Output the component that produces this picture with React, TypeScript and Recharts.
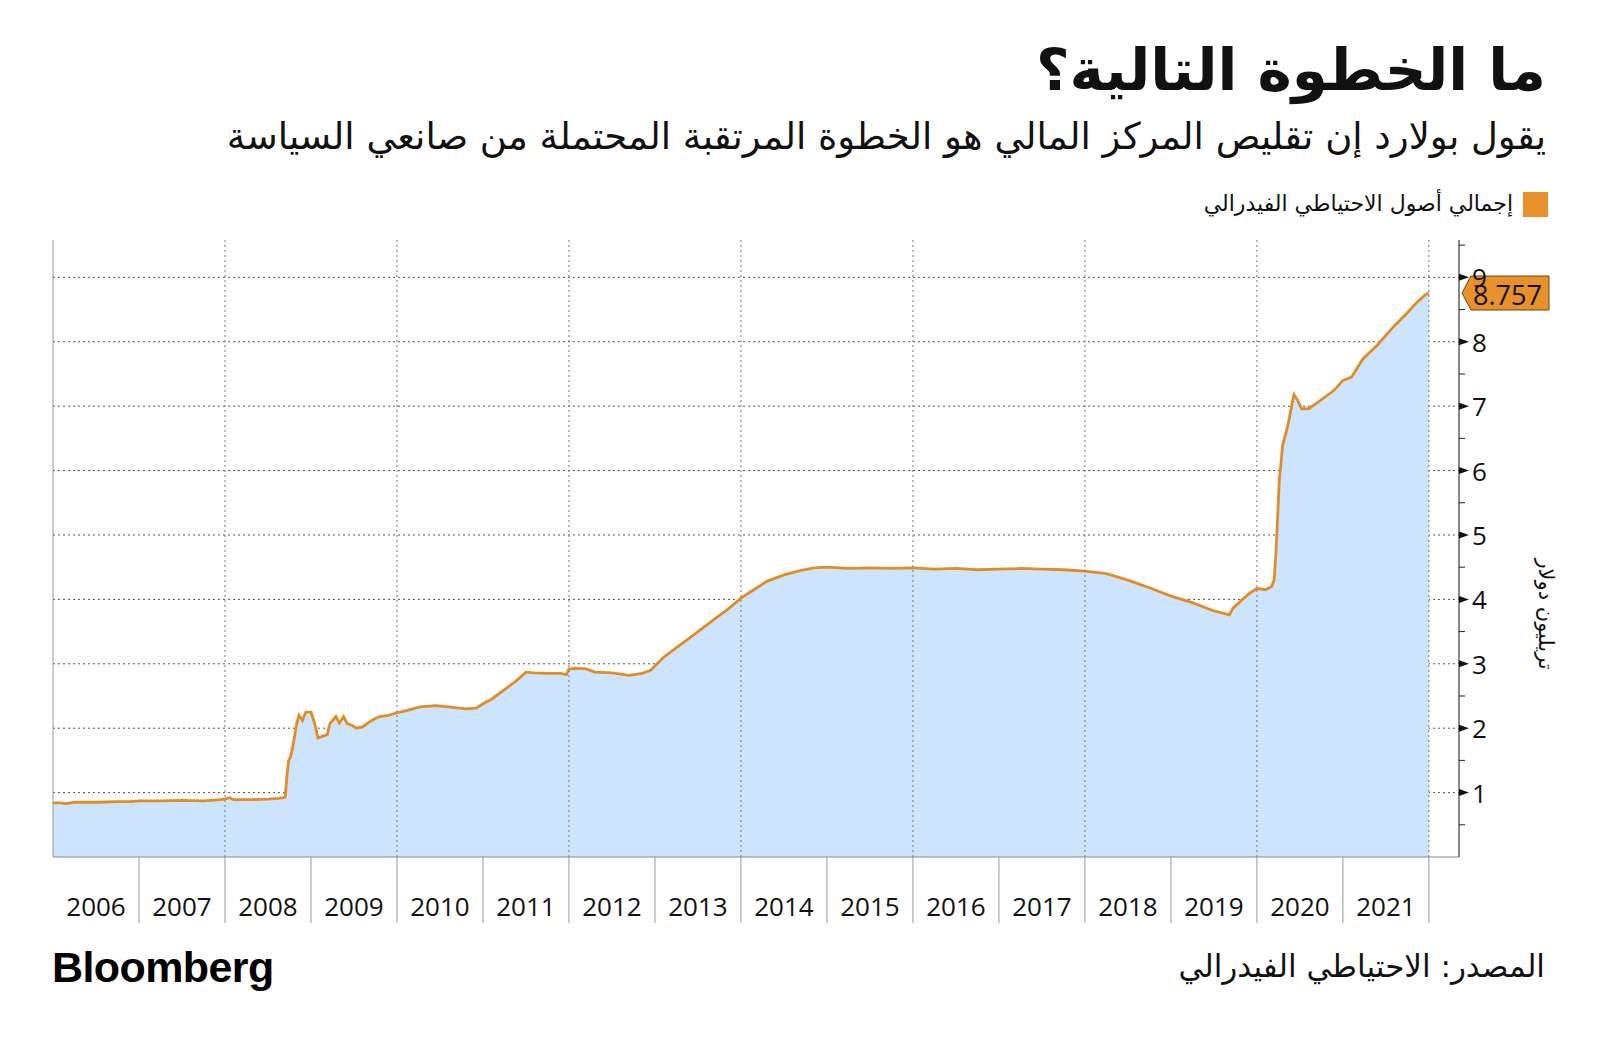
import React from 'react';
import { AreaChart, Area, XAxis, YAxis, CartesianGrid, ReferenceLine } from 'recharts';

// decimal year of each reading
const dates = [
  2006.0, 2006.08, 2006.15, 2006.25, 2006.5, 2006.75, 2006.9,
  2007.0, 2007.25, 2007.5, 2007.75, 2007.95,
  2008.0, 2008.05, 2008.1, 2008.3, 2008.5, 2008.62, 2008.68, 2008.7, 2008.72, 2008.74,
  2008.76, 2008.78, 2008.8, 2008.83, 2008.86, 2008.9, 2008.94,
  2009.0, 2009.05, 2009.08, 2009.15, 2009.19, 2009.22, 2009.29, 2009.33, 2009.38, 2009.42,
  2009.47, 2009.53, 2009.6, 2009.66, 2009.72, 2009.8, 2009.9,
  2010.0, 2010.1, 2010.27, 2010.45, 2010.6, 2010.8, 2010.92,
  2011.0, 2011.1, 2011.25, 2011.4, 2011.5, 2011.6, 2011.75, 2011.9, 2011.97,
  2012.0, 2012.1, 2012.2, 2012.3, 2012.5, 2012.7, 2012.85, 2012.95,
  2013.1, 2013.25, 2013.4, 2013.55, 2013.7, 2013.85,
  2014.0, 2014.15, 2014.3, 2014.5, 2014.7, 2014.85,
  2015.0, 2015.25, 2015.5, 2015.75,
  2016.0, 2016.25, 2016.5, 2016.75,
  2017.0, 2017.25, 2017.5, 2017.75,
  2018.0, 2018.25, 2018.5, 2018.75,
  2019.0, 2019.25, 2019.5, 2019.68, 2019.72, 2019.8, 2019.9,
  2020.0, 2020.1, 2020.17, 2020.2, 2020.22, 2020.24, 2020.26, 2020.28, 2020.3, 2020.36,
  2020.43, 2020.47, 2020.52, 2020.6, 2020.7, 2020.8, 2020.9,
  2021.0, 2021.1, 2021.23, 2021.4, 2021.5, 2021.6, 2021.75, 2021.85, 2021.95, 2022.0,
];

// total Fed assets, trillion dollars
const assets = [
  0.84, 0.84, 0.83, 0.85, 0.85, 0.86, 0.86,
  0.87, 0.87, 0.88, 0.87, 0.89,
  0.9, 0.92, 0.89, 0.89, 0.9, 0.91, 0.92, 0.93, 1.25, 1.5,
  1.55, 1.65, 1.8, 2.05, 2.2, 2.12, 2.25,
  2.25, 2.04, 1.85, 1.88, 1.9, 2.07, 2.18, 2.08, 2.18, 2.07,
  2.05, 2.0, 2.02, 2.08, 2.13, 2.18, 2.2,
  2.24, 2.27, 2.33, 2.35, 2.33, 2.3, 2.31,
  2.38, 2.45, 2.6, 2.75, 2.87, 2.86, 2.85, 2.85, 2.83,
  2.92, 2.93, 2.92, 2.87, 2.86, 2.82, 2.85, 2.9,
  3.1, 3.25, 3.4, 3.55, 3.7, 3.85,
  4.02, 4.15, 4.28, 4.38, 4.45, 4.49,
  4.5, 4.48, 4.49, 4.48,
  4.49, 4.47, 4.48, 4.46,
  4.47, 4.48, 4.47, 4.46,
  4.44, 4.4, 4.3, 4.18,
  4.05, 3.95, 3.82, 3.76, 3.86, 3.96, 4.08,
  4.17, 4.15, 4.2, 4.3, 4.7, 5.25, 5.85, 6.12, 6.4, 6.7,
  7.18, 7.1, 6.96, 6.96, 7.05, 7.15, 7.25,
  7.4, 7.45, 7.73, 7.95, 8.1, 8.25, 8.45, 8.6, 8.72, 8.757,
];

const yearTicks = [2006, 2007, 2008, 2009, 2010, 2011, 2012, 2013, 2014, 2015, 2016, 2017, 2018, 2019, 2020, 2021, 2022];
const gridYears = [2008, 2010, 2012, 2014, 2016, 2018, 2020, 2022];
const valueTicks = [0.5, 1, 1.5, 2, 2.5, 3, 3.5, 4, 4.5, 5, 5.5, 6, 6.5, 7, 7.5, 8, 8.5, 9, 9.5];
const gridValues = [1, 2, 3, 4, 5, 6, 7, 8, 9];

const title = 'ما الخطوة التالية؟';
const subtitle = 'يقول بولارد إن تقليص المركز المالي هو الخطوة المرتقبة المحتملة من صانعي السياسة';
const seriesName = 'إجمالي أصول الاحتياطي الفيدرالي';
const unitLabel = 'تريليون دولار';
const sourceText = 'المصدر: الاحتياطي الفيدرالي';

const data = dates.map((d, i) => ({ date: d, value: assets[i] }));
const latest = assets[assets.length - 1];

const ORANGE = '#E8912B';
const ARABIC = '"DejaVu Sans", sans-serif';
const NUM = '"Open Sans", sans-serif';

const YearTick = (props: any) => {
  const { x, y, payload } = props;
  const year = payload.value;
  return (
    <g>
      {year > 2006 && <line x1={x} y1={y} x2={x} y2={y + 66} stroke="#9a9a9a" strokeWidth={1} />}
      {year < 2022 && (
        <text x={x + 43} y={y + 49} textAnchor="middle" dominantBaseline="central" fontSize={26} fontFamily={NUM} fill="#111">
          {year}
        </text>
      )}
    </g>
  );
};

const ValueTick = (props: any) => {
  const { x, y, payload } = props;
  const v = payload.value;
  if (!Number.isInteger(v)) {
    return <line x1={x} y1={y} x2={x + 6} y2={y} stroke="#222" strokeWidth={1} />;
  }
  return (
    <g>
      <polygon points={`${x},${y - 3.5} ${x + 10},${y} ${x},${y + 3.5}`} fill="#111" />
      <text x={x + 13} y={y} dominantBaseline="central" fontSize={26} fontFamily={NUM} fill="#111">
        {v}
      </text>
    </g>
  );
};

const Badge = (props: any) => {
  const { viewBox } = props;
  const x0 = viewBox.x + viewBox.width + 3;
  const y = viewBox.y;
  return (
    <g>
      <polygon
        points={`${x0},${y} ${x0 + 9},${y - 17} ${x0 + 87},${y - 17} ${x0 + 87},${y + 17} ${x0 + 9},${y + 17}`}
        fill={ORANGE}
        stroke="#6b4512"
        strokeWidth={1}
      />
      <text x={x0 + 11} y={y + 1} dominantBaseline="central" fontSize={27} fontFamily={NUM} fill="#111">
        {latest.toFixed(3)}
      </text>
    </g>
  );
};

const App: React.FC = () => {
  return (
    <div style={{ position: 'absolute', left: 0, top: 0, width: 1600, height: 1047, background: '#fff', overflow: 'hidden' }}>
      <div style={{ position: 'absolute', right: 54, top: 34, fontFamily: ARABIC, fontWeight: 700, fontSize: 58, lineHeight: '72px', direction: 'rtl', color: '#111' }}>
        {title}
      </div>
      <div style={{ position: 'absolute', right: 54, top: 112, fontFamily: ARABIC, fontSize: 37, lineHeight: '50px', direction: 'rtl', color: '#111' }}>
        {subtitle}
      </div>
      <div style={{ position: 'absolute', left: 1523, top: 192, width: 25, height: 25, background: ORANGE }} />
      <div style={{ position: 'absolute', right: 87, top: 189, fontFamily: ARABIC, fontSize: 22, lineHeight: '30px', direction: 'rtl', color: '#111' }}>
        {seriesName}
      </div>

      <div style={{ position: 'absolute', left: 0, top: 0 }}>
        <AreaChart width={1600} height={1047} data={data} margin={{ top: 240, right: 81, bottom: 120, left: 53 }}>
          <CartesianGrid horizontal vertical={false} horizontalValues={gridValues} stroke="#555" strokeDasharray="2 3" />
          {gridYears.map((yr) => (
            <ReferenceLine key={yr} x={yr} stroke="#777" strokeDasharray="2 3" />
          ))}
          <ReferenceLine x={2006} stroke="#999" />
          <XAxis
            dataKey="date"
            type="number"
            domain={[2006, 2022.35]}
            ticks={yearTicks}
            tick={<YearTick />}
            tickLine={false}
            tickSize={0}
            tickMargin={0}
            height={70}
            axisLine={{ stroke: '#888' }}
            interval={0}
          />
          <YAxis
            orientation="right"
            type="number"
            domain={[0, 9.58]}
            ticks={valueTicks}
            tick={<ValueTick />}
            tickLine={false}
            tickSize={0}
            tickMargin={0}
            width={60}
            axisLine={{ stroke: '#111' }}
            interval={0}
            allowDataOverflow
          />
          <Area
            type="linear"
            dataKey="value"
            stroke="#E38C25"
            strokeWidth={2.8}
            fill="#CCE4FC"
            fillOpacity={1}
            isAnimationActive={false}
            dot={false}
            activeDot={false}
          />
          <ReferenceLine y={latest} stroke="none" label={<Badge />} />
        </AreaChart>
      </div>

      <div style={{ position: 'absolute', left: 1546, top: 614, transform: 'translate(-50%, -50%) rotate(90deg)', fontFamily: ARABIC, fontSize: 21, whiteSpace: 'nowrap', direction: 'rtl', color: '#111' }}>
        {unitLabel}
      </div>

      <div style={{ position: 'absolute', left: 52, top: 941, fontFamily: '"Liberation Sans", Arial, sans-serif', fontWeight: 700, fontSize: 43, letterSpacing: -0.6, lineHeight: '52px', color: '#000' }}>
        Bloomberg
      </div>
      <div style={{ position: 'absolute', right: 55, top: 944, fontFamily: ARABIC, fontSize: 31, lineHeight: '44px', direction: 'rtl', color: '#111' }}>
        {sourceText}
      </div>
    </div>
  );
};

export default App;
